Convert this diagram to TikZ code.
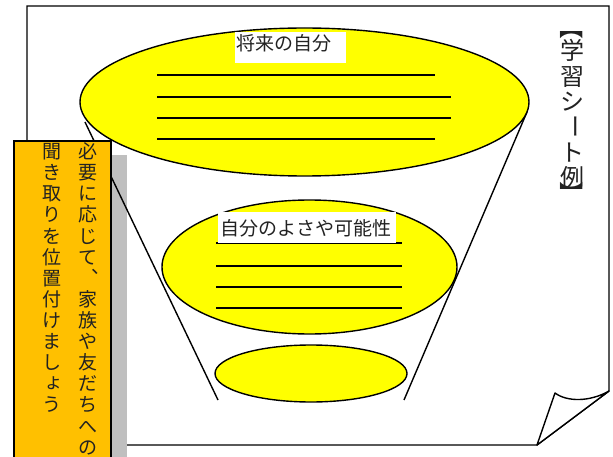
\documentclass[tikz,border=0pt]{standalone}
\usepackage{fontspec}
\usepackage{graphicx}
\usetikzlibrary{shapes.geometric}
\newfontfamily\jp{Noto Sans CJK JP}
\definecolor{ylw}{HTML}{FFFF00}
\definecolor{org}{HTML}{FFC000}
\definecolor{shd}{HTML}{BFBFBF}
\definecolor{txt}{HTML}{222222}
% #1 x, #2 first baseline, #3 pitch, #4 size, #5 first index, #6 list
\newcommand\vtext[6]{%
  \foreach \ch [count=\k from #5] in {#6} {
    \node[anchor=base, inner sep=0pt, text=txt, font=\jp\fontsize{#4}{#4}\selectfont] at ({#1},{#2+\k*#3}) {\ch};
  }}
\begin{document}
\begin{tikzpicture}[x=1pt,y=-1pt,
  oval/.style={ellipse, draw=black, line width=1.4pt, fill=ylw, inner sep=0pt},
  wline/.style={line width=2pt, black},
  edge/.style={line width=1.4pt, black},
  vch/.style={inner sep=0pt, text=txt, font=\jp\fontsize{19}{19}\selectfont},
  tch/.style={inner sep=0pt, text=txt, font=\jp\fontsize{24}{24}\selectfont},
  lbl/.style={inner sep=0pt, text=txt, font=\jp\fontsize{19}{19}\selectfont}]
\useasboundingbox (0,0) rectangle (613,457);
\clip (0,0) rectangle (613,457);
% sheet
\draw[edge, fill=white] (27,445) -- (27,6) -- (609,6) -- (609,391) -- (537,445) -- cycle;
\draw[edge, fill=white, line join=round] (609,391) .. controls (590,402) and (567,402) .. (555,393) -- (537,445) -- cycle;
% shadow
\fill[shd] (110,155) rectangle (127,460);
% funnel sides
\coordinate (ltop) at (85,122);
\coordinate (lbot) at (218,400);
\coordinate (rtop) at (527,112);
\coordinate (rbot) at (404,400);
\draw[edge] (ltop) -- (lbot);
\draw[edge] (rtop) -- (rbot);
% ellipses
\node[oval, minimum width=449pt, minimum height=148pt] (big) at (304.5,102) {};
\node[oval, minimum width=295pt, minimum height=134pt] (mid) at (309.5,267) {};
\node[oval, minimum width=192pt, minimum height=57pt] (small) at (311,373.5) {};
% writing lines
\draw[wline] (157,75) -- (435,75);
\draw[wline] (157,97) -- (451,97);
\draw[wline] (157,118) -- (451,118);
\draw[wline] (157,139) -- (435,139);
\draw[wline] (216,243) -- (402,243);
\draw[wline] (216,266) -- (402,266);
\draw[wline] (216,287) -- (402,287);
\draw[wline] (216,308) -- (402,308);
% labels
\node[fill=white, inner sep=0pt, minimum width=111pt, minimum height=31pt] (l1box) at (290.5,47.5) {};
\node[lbl, anchor=base west] (l1) at (236.5,50.5) {将来の自分};
\node[fill=white, inner sep=0pt, minimum width=178pt, minimum height=31pt] (l2box) at (307,227.5) {};
\node[lbl, anchor=base] (l2) at (306,236) {自分のよさや可能性};
% orange note
\node[draw=black, line width=2.2pt, fill=org, minimum width=97pt, minimum height=330pt, inner sep=0pt, anchor=north west] (note) at (13,140) {};
\vtext{88}{158.7}{21.1}{19}{0}{必,要,に,応,じ,て}
\node[vch, anchor=base] (comma) at (101,{158.7+6*21.1-11.5}) {、};
\vtext{88}{158.7}{21.1}{19}{7}{家,族,や,友,だ,ち,へ,の}
\vtext{52}{158.7}{21.1}{19}{0}{聞,き,取,り,を,位,置,付,け,ま,し}
\node[vch, anchor=base] (small yo) at (54,{158.7+11*21.1-2}) {ょ};
\vtext{52}{158.7}{21.1}{19}{12}{う}
% right title
\vtext{572}{59.9}{25.4}{24}{0}{学,習,シ}
\node[tch] (bar) at (572,{38.8+3*25.4+12}) {\rotatebox{-90}{ー}};
\vtext{572}{59.9}{25.4}{24}{4}{ト,例}
\node[tch] (lb) at (572,28) {\rotatebox{-90}{【}};
\node[tch] (rb) at (572,194) {\rotatebox{-90}{】}};
\end{tikzpicture}
\end{document}
